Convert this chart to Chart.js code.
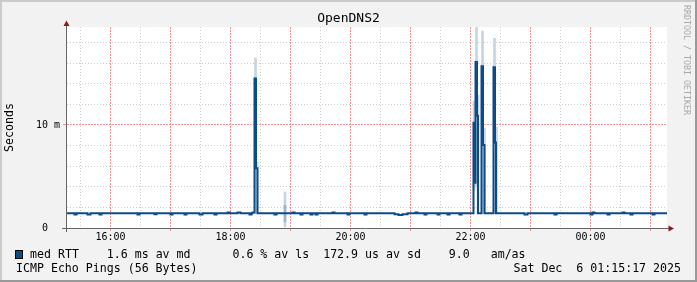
<!DOCTYPE html>
<html><head><meta charset="utf-8">
<script src="https://cdn.jsdelivr.net/npm/chart.js@4/dist/chart.umd.min.js"></script>
<style>html,body{margin:0;padding:0;background:#f2f2f2;}#wrap{width:697px;height:282px;position:relative;}canvas{display:block;}</style>
</head><body><div id="wrap"><canvas id="c" width="697" height="282"></canvas></div>
<script>
// ---- data ----
const chartTitle = 'OpenDNS2';
const yAxisTitle = 'Seconds';
const watermark = 'RRDTOOL / TOBI OETIKER';
const legendLine = 'med RTT    1.6 ms av md      0.6 % av ls  172.9 us av sd    9.0   am/as';
const footLeft = 'ICMP Echo Pings (56 Bytes)';
const footRight = 'Sat Dec  6 01:15:17 2025';

// time in minutes of day (after midnight continues past 1440)
const xRange = [916.5, 1516.5];
const hourTicks = [960, 1020, 1080, 1140, 1200, 1260, 1320, 1380, 1440, 1500];
const halfHourTicks = [930, 990, 1050, 1110, 1170, 1230, 1290, 1350, 1410, 1470];
const hourLabelAt = [960, 1080, 1200, 1320, 1440];
const hourLabelText = ['16:00', '18:00', '20:00', '22:00', '00:00'];

const yRange = [0, 19.5]; // milliseconds
const yMajorTicks = [0, 10];
const yMajorLabels = ['0  ', '10 m'];
const yMinorTicks = [2, 4, 6, 8, 12, 14, 16, 18];

// median RTT (ms), change points of the step line
const medTime = [916.5, 924, 926, 937, 940, 949, 951, 987, 989, 1004, 1006, 1020, 1022, 1034, 1036,
  1049, 1052, 1064, 1066, 1077, 1079, 1087, 1090, 1099, 1101, 1102, 1104, 1105.5, 1107,
  1124, 1126, 1142, 1144, 1150, 1152, 1160, 1162, 1165, 1167, 1182, 1184, 1197, 1199, 1214, 1216,
  1244, 1248, 1252, 1257, 1265, 1267, 1274, 1276, 1287, 1289, 1297, 1299, 1309, 1311,
  1323, 1324, 1325, 1326.5, 1327.5, 1331, 1332.5, 1334, 1343, 1344.5, 1345.5,
  1374, 1377, 1404, 1406, 1440, 1442, 1444, 1457, 1459, 1472, 1474, 1480, 1482, 1502, 1504, 1516.5];
const medValue = [1.42, 1.32, 1.42, 1.32, 1.42, 1.32, 1.42, 1.32, 1.42, 1.34, 1.42, 1.32, 1.42, 1.32, 1.42,
  1.30, 1.42, 1.32, 1.42, 1.50, 1.42, 1.50, 1.42, 1.32, 1.42, 1.50, 14.5, 5.8, 1.42,
  1.32, 1.42, 1.50, 1.42, 1.32, 1.42, 1.32, 1.42, 1.30, 1.42, 1.50, 1.42, 1.32, 1.42, 1.32, 1.42,
  1.34, 1.26, 1.34, 1.42, 1.50, 1.42, 1.32, 1.42, 1.32, 1.42, 1.32, 1.42, 1.32, 1.42,
  10.2, 4.4, 16.1, 10.9, 1.42, 15.7, 8.05, 1.42, 15.6, 8.3, 1.42,
  1.32, 1.42, 1.32, 1.42, 1.30, 1.50, 1.42, 1.32, 1.42, 1.50, 1.42, 1.32, 1.42, 1.32, 1.42, 1.42];

// smoke (ping spread), ms
const smokeTime = [1105, 1106.5, 1134.5, 1323.5, 1326, 1327.5, 1332, 1334, 1344, 1346];
const smokeLow  = [1.4, 1.4, 0.1, 3.7, 4.0, 1.4, 1.4, 1.4, 1.4, 1.4];
const smokeHigh = [16.5, 6.4, 3.5, 12.3, 19.5, 12.9, 19.1, 9.7, 18.4, 9.8];
const denseSmokeTime = [1134.5];
const denseSmokeLow = [0.6];
const denseSmokeHigh = [2.2];

// ---- styles ----
const MONO = '"DejaVu Sans Mono", "Liberation Mono", monospace';
const MED_COLOR = '#0d4a88';
const GRID_MINOR = '#cdcdcd';
const GRID_MAJOR = '#f29494';
const AXIS_COLOR = '#666666';
const ARROW_COLOR = '#8a1c1c';

const frame = {
  id: 'rrdFrame',
  beforeDraw(chart) {
    const {ctx, chartArea: a} = chart;
    ctx.save();
    ctx.fillStyle = '#f2f2f2';
    ctx.fillRect(0, 0, chart.width, chart.height);
    ctx.fillStyle = '#ffffff';
    ctx.fillRect(a.left, a.top, a.right - a.left, a.bottom - a.top);
    ctx.restore();
  },
  afterDraw(chart) {
    const {ctx, chartArea: a, width: W, height: H} = chart;
    ctx.save();
    // axes
    ctx.strokeStyle = AXIS_COLOR; ctx.lineWidth = 1;
    ctx.beginPath();
    ctx.moveTo(a.left - 0.5, a.bottom + 4); ctx.lineTo(a.left - 0.5, a.top - 2);
    ctx.moveTo(a.left - 5, a.bottom + 0.5); ctx.lineTo(a.right + 2, a.bottom + 0.5);
    ctx.stroke();
    ctx.fillStyle = ARROW_COLOR;
    ctx.beginPath();
    ctx.moveTo(a.left - 0.5, a.top - 6.5); ctx.lineTo(a.left - 3.5, a.top - 1); ctx.lineTo(a.left + 2.5, a.top - 1); ctx.closePath();
    ctx.fill();
    ctx.beginPath();
    ctx.moveTo(a.right + 7, a.bottom + 0.5); ctx.lineTo(a.right + 1.5, a.bottom - 2.5); ctx.lineTo(a.right + 1.5, a.bottom + 3.5); ctx.closePath();
    ctx.fill();
    // legend
    ctx.fillStyle = MED_COLOR;
    ctx.fillRect(15, 250, 8, 9);
    ctx.strokeStyle = '#000'; ctx.strokeRect(15.5, 250.5, 7, 8);
    ctx.fillStyle = '#000';
    ctx.font = '11.6px ' + MONO;
    ctx.textBaseline = 'middle';
    ctx.textAlign = 'left';
    ctx.fillText(legendLine, 30, 255);
    ctx.fillText(footLeft, 16, 269);
    ctx.textAlign = 'right';
    ctx.fillText(footRight, 681, 269);
    // watermark
    ctx.save();
    ctx.translate(686, 5);
    ctx.rotate(Math.PI / 2);
    ctx.fillStyle = '#a8a8a8';
    ctx.font = '8.3px ' + MONO;
    ctx.textAlign = 'left';
    ctx.textBaseline = 'middle';
    ctx.fillText(watermark, 0, 0);
    ctx.restore();
    // frame
    ctx.fillStyle = '#cbcbcb';
    ctx.fillRect(0, 0, W, 2); ctx.fillRect(0, 0, 2, H);
    ctx.fillStyle = '#999999';
    ctx.fillRect(0, H - 2, W, 2); ctx.fillRect(W - 2, 0, 2, H);
    ctx.restore();
  }
};

const pts = (ts, vs) => ts.map((t, i) => ({x: t, y: vs[i]}));
const bars = (ts, lo, hi) => ts.map((t, i) => ({x: t, y: [lo[i], hi[i]]}));

new Chart(document.getElementById('c'), {
  type: 'line',
  data: {
    datasets: [
      {type: 'bar', data: bars(smokeTime, smokeLow, smokeHigh), backgroundColor: '#c6d5e4', barThickness: 2, grouped: false, order: 3, xAxisID: 'x', yAxisID: 'y'},
      {type: 'bar', data: bars(denseSmokeTime, denseSmokeLow, denseSmokeHigh), backgroundColor: '#9fb5cb', barThickness: 2, grouped: false, order: 2, xAxisID: 'x', yAxisID: 'y'},
      {type: 'line', data: pts(medTime, medValue), stepped: 'before', borderColor: MED_COLOR, borderWidth: 2, pointRadius: 0, fill: false, order: 1, xAxisID: 'x', yAxisID: 'y', borderJoinStyle: 'miter', borderCapStyle: 'butt'}
    ]
  },
  options: {
    responsive: false, animation: false, devicePixelRatio: 1,
    layout: {padding: 0},
    plugins: {
      legend: {display: false}, tooltip: {enabled: false},
      title: {display: true, text: chartTitle, color: '#000', font: {family: MONO, size: 13, weight: 'normal', lineHeight: 1.2}, padding: {top: 11, bottom: 0.4}}
    },
    scales: {
      x: {
        type: 'linear', position: 'bottom', min: xRange[0], max: xRange[1], offset: false,
        afterBuildTicks: s => { s.ticks = hourTicks.map(v => ({value: v})); },
        afterFit: s => { s.height = 54; },
        ticks: {autoSkip: false, maxRotation: 0, padding: 0, color: '#000', font: {family: MONO, size: 10},
          callback: v => { const i = hourLabelAt.indexOf(v); return i >= 0 ? hourLabelText[i] : ''; }},
        grid: {offset: false, color: GRID_MAJOR, lineWidth: 1, drawTicks: true, tickLength: 3, tickColor: GRID_MAJOR},
        border: {display: false, dash: [2, 1]}
      },
      x2: {
        type: 'linear', position: 'bottom', min: xRange[0], max: xRange[1], offset: false,
        afterBuildTicks: s => { s.ticks = halfHourTicks.map(v => ({value: v})); },
        afterFit: s => { s.height = 0; },
        ticks: {display: false},
        grid: {offset: false, color: GRID_MINOR, lineWidth: 1, drawTicks: true, tickLength: 3, tickColor: GRID_MINOR},
        border: {display: false, dash: [1, 2]}
      },
      y: {
        type: 'linear', position: 'left', min: yRange[0], max: yRange[1],
        afterBuildTicks: s => { s.ticks = yMajorTicks.map(v => ({value: v})); },
        afterFit: s => { s.width = 67; },
        ticks: {padding: 3, color: '#000', font: {family: MONO, size: 10},
          callback: v => { const i = yMajorTicks.indexOf(v); return i >= 0 ? yMajorLabels[i] : ''; }},
        grid: {color: c => c.tick && c.tick.value === 0 ? 'rgba(0,0,0,0)' : GRID_MAJOR, lineWidth: 1, drawTicks: true, tickLength: 4,
          tickColor: c => c.tick && c.tick.value === 0 ? AXIS_COLOR : GRID_MAJOR},
        border: {display: false, dash: [2, 1]},
        title: {display: true, text: yAxisTitle, color: '#000', font: {family: MONO, size: 11.6, lineHeight: 1.2}, padding: {top: 3, bottom: 0}}
      },
      y2: {
        type: 'linear', position: 'right', min: yRange[0], max: yRange[1],
        afterBuildTicks: s => { s.ticks = yMinorTicks.map(v => ({value: v})); },
        afterFit: s => { s.width = 30; },
        ticks: {display: false},
        grid: {color: GRID_MINOR, lineWidth: 1, drawTicks: false},
        border: {display: false, dash: [1, 2]}
      }
    }
  },
  plugins: [frame]
});
</script>
</body></html>
